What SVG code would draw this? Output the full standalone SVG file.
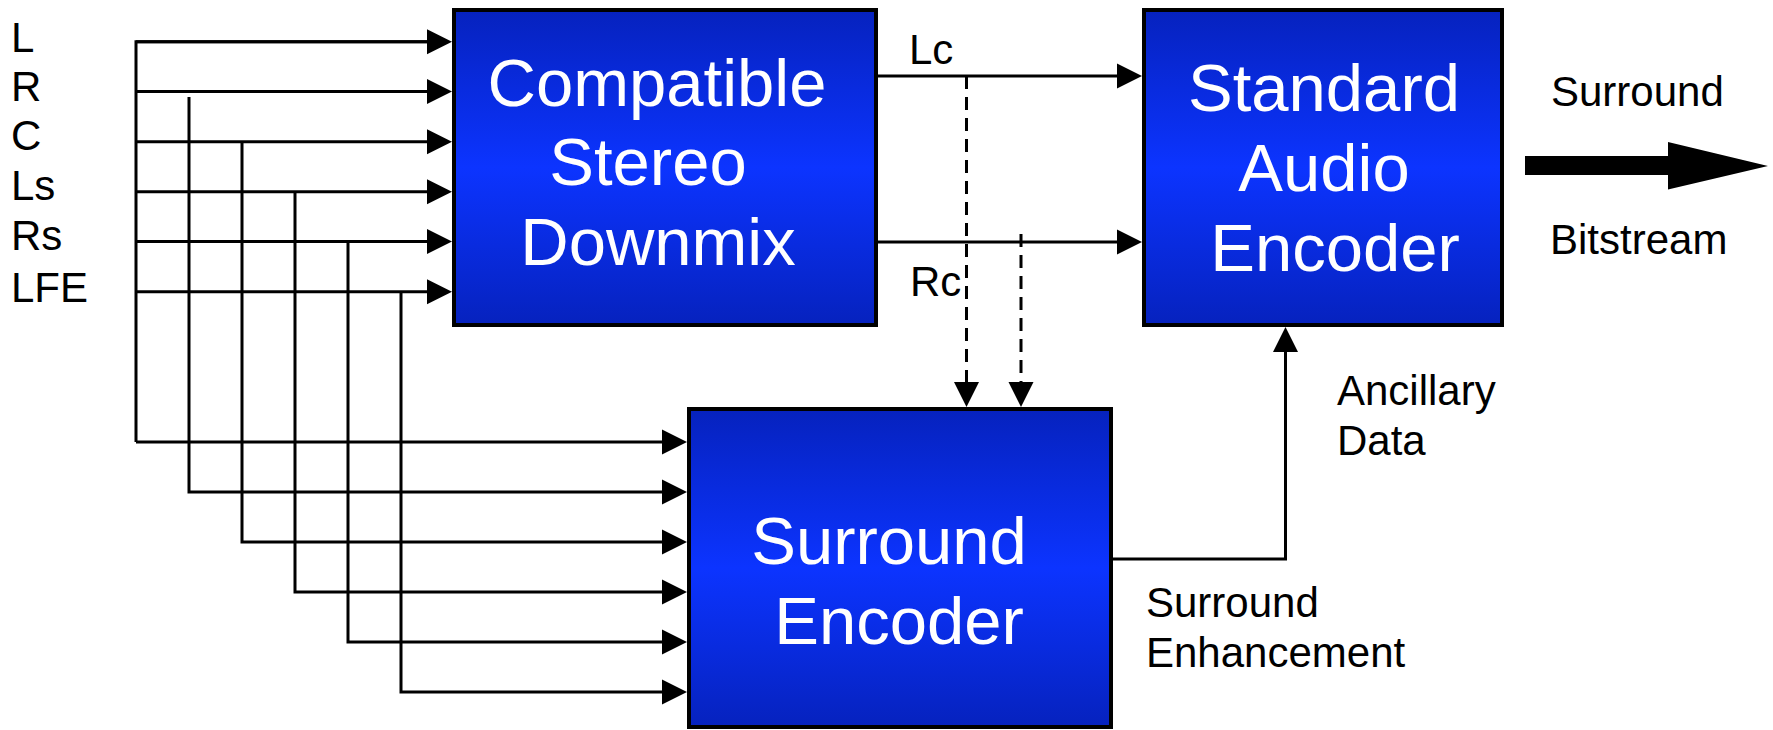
<svg xmlns="http://www.w3.org/2000/svg" width="1773" height="730" viewBox="0 0 1773 730">
<style>
.box{stroke:#000;stroke-width:4;fill:url(#blue)}
.bt{font-family:"Liberation Sans",Arial,sans-serif;font-size:67px;fill:#fff;text-anchor:middle}
.lb{font-family:"Liberation Sans",Arial,sans-serif;font-size:42px;fill:#000}
.ln{fill:none;stroke:#000;stroke-width:3}
.arr{marker-end:url(#ah)}
.dash{stroke-dasharray:13 8}
</style>
<defs>
<linearGradient id="blue" x1="0" y1="0" x2="0" y2="1">
<stop offset="0" stop-color="#0622BE"/>
<stop offset="0.5" stop-color="#0C34FF"/>
<stop offset="1" stop-color="#0622BE"/>
</linearGradient>
<marker id="ah" markerUnits="userSpaceOnUse" markerWidth="26" markerHeight="26" refX="0" refY="12.5" orient="auto" overflow="visible">
<path d="M0,0 L25,12.5 L0,25 z" fill="#000"/>
</marker>
</defs>
<rect width="1773" height="730" fill="#fff"/>
<g id="input-labels">
<text class="lb" x="11" y="52">L</text>
<text class="lb" x="11" y="101">R</text>
<text class="lb" x="11" y="150">C</text>
<text class="lb" x="11" y="200">Ls</text>
<text class="lb" x="11" y="250">Rs</text>
<text class="lb" x="11" y="302">LFE</text>
</g>
<g id="connectors">
<path class="ln" d="M136,442 V41.7 H427"/>
<path class="ln arr" d="M136,41.7 H427"/>
<path class="ln arr" d="M136,91.5 H427"/>
<path class="ln arr" d="M136,141.7 H427"/>
<path class="ln arr" d="M136,191.7 H427"/>
<path class="ln arr" d="M136,241.5 H427"/>
<path class="ln arr" d="M136,291.7 H427"/>
<path class="ln arr" d="M136,442 H662"/>
<path class="ln arr" d="M189,97 V492 H662"/>
<path class="ln arr" d="M242,141.7 V542 H662"/>
<path class="ln arr" d="M295,191.7 V592 H662"/>
<path class="ln arr" d="M348,241.5 V642 H662"/>
<path class="ln arr" d="M401,291.7 V692 H662"/>
<path class="ln arr" d="M878,76 H1117"/>
<path class="ln arr" d="M878,242 H1117"/>
<path class="ln dash arr" d="M966.5,76 V382"/>
<path class="ln dash arr" d="M1021,234 V382"/>
<path class="ln arr" d="M1112,559 H1285.5 V352"/>
<polygon points="1525,156 1668,156 1668,142 1768,166 1668,189.5 1668,175 1525,175" fill="#000"/>
</g>
<g id="downmix">
<rect class="box" x="454" y="10" width="422" height="315"/>
<text class="bt" x="657" y="106">Compatible</text>
<text class="bt" x="648" y="185">Stereo</text>
<text class="bt" x="658" y="265">Downmix</text>
</g>
<g id="audio-encoder">
<rect class="box" x="1144" y="10" width="358" height="315"/>
<text class="bt" x="1324" y="111">Standard</text>
<text class="bt" x="1324" y="191">Audio</text>
<text class="bt" x="1335" y="271">Encoder</text>
</g>
<g id="surround-encoder">
<rect class="box" x="689" y="409" width="422" height="318"/>
<text class="bt" x="889" y="564">Surround</text>
<text class="bt" x="899" y="644">Encoder</text>
</g>
<g id="labels">
<text class="lb" x="909" y="64">Lc</text>
<text class="lb" x="910" y="296">Rc</text>
<text class="lb" x="1551" y="106">Surround</text>
<text class="lb" x="1550" y="254">Bitstream</text>
<text class="lb" x="1337" y="405">Ancillary</text>
<text class="lb" x="1337" y="455">Data</text>
<text class="lb" x="1146" y="617">Surround</text>
<text class="lb" x="1146" y="667">Enhancement</text>
</g>
</svg>
